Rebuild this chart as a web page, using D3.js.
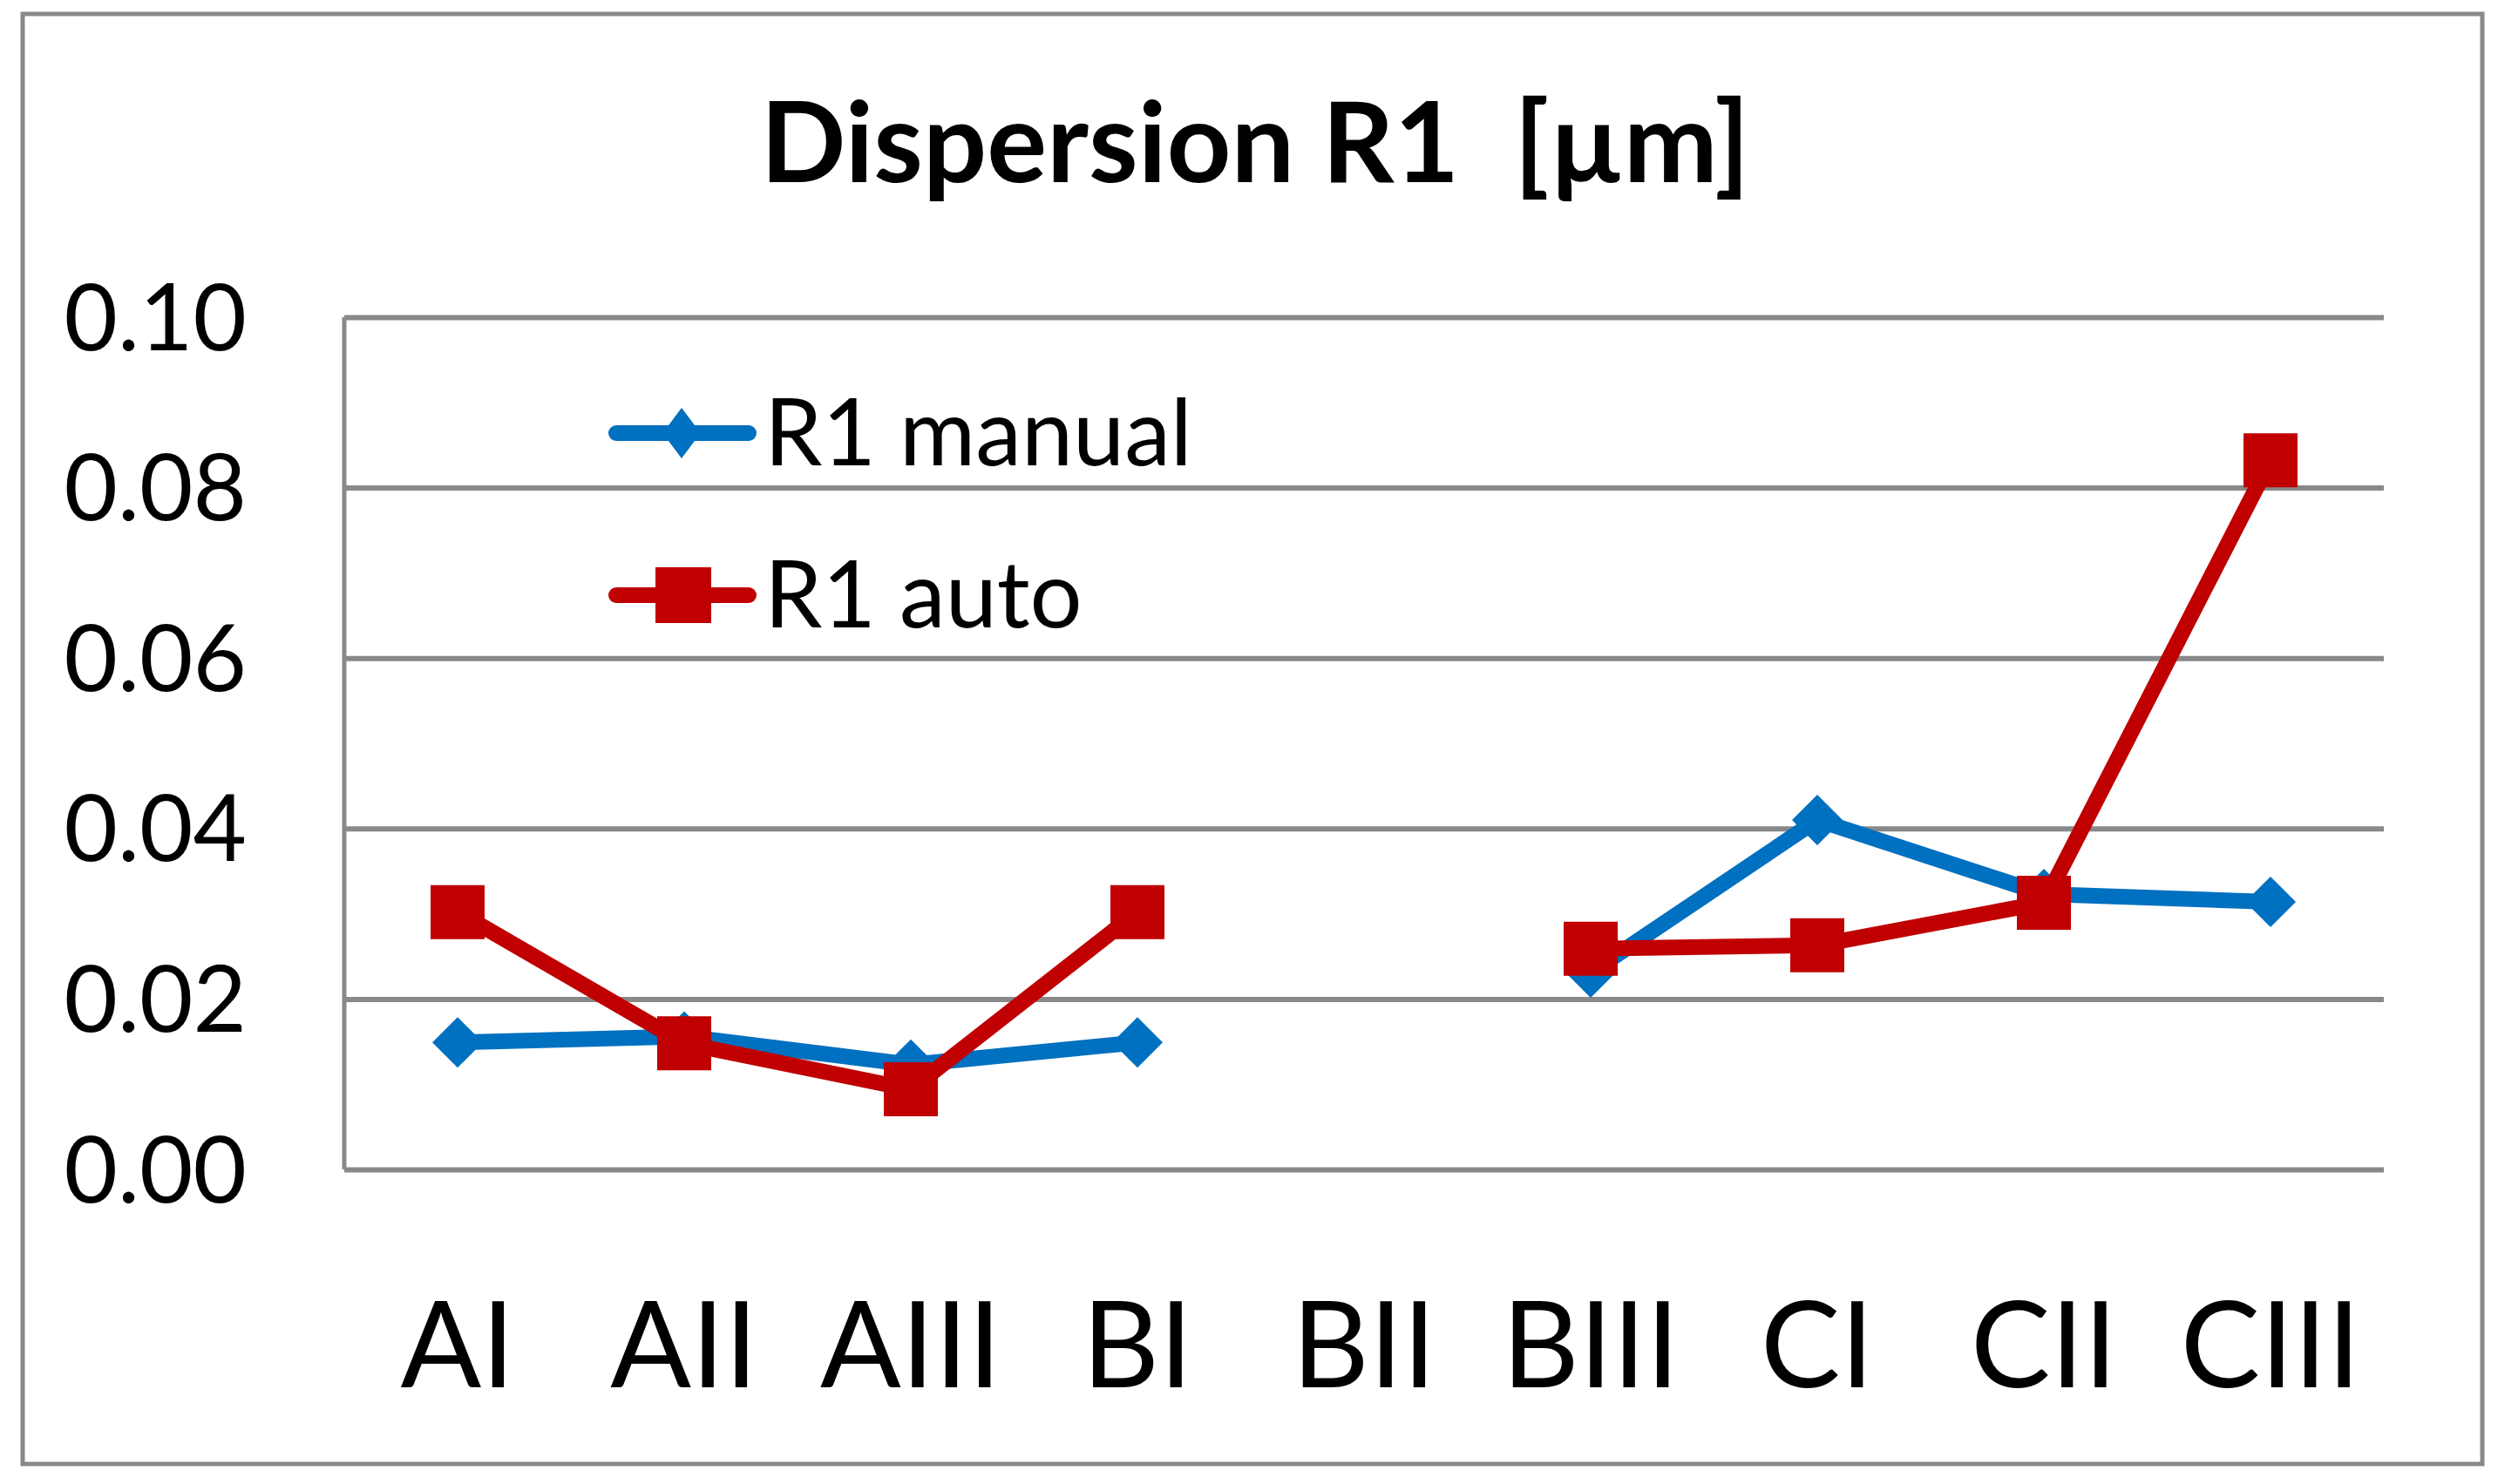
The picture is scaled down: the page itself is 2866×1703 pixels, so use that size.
<!DOCTYPE html>
<html>
<head>
<meta charset="utf-8">
<script src="https://cdn.jsdelivr.net/npm/d3@7"></script>
<style>
  body { margin: 0; background: #ffffff; }
  text { font-family: Lato, "Open Sans", sans-serif; fill: #000; }
</style>
</head>
<body>
<div id="body"></div>
<script>
// chart data
var categories = ['AI', 'AII', 'AIII', 'BI', 'BII', 'BIII', 'CI', 'CII', 'CIII'];
var manualValues = [0.0149, 0.0156, 0.0123, 0.0149, null, 0.0231, 0.0410, 0.0323, 0.0314];
var autoValues = [0.0302, 0.0148, 0.0094, 0.0302, null, 0.0259, 0.0263, 0.0313, 0.0832];
var yTicks = [0, 0.02, 0.04, 0.06, 0.08, 0.10];
var seriesNames = ['R1 manual', 'R1 auto'];
var seriesColors = ['#0070C0', '#C00000'];
var titleText = 'Dispersion R1  [µm]';

var width = 2866;
var height = 1703;
var plot = { left: 395, right: 2735, top: 364, bottom: 1342 };
var gridColor = '#898989';

var svg = d3.select('#body')
  .append('svg')
  .attr('width', width)
  .attr('height', height)
  .style('display', 'block')
  .style('background', '#ffffff');

// outer frame
svg.append('rect')
  .attr('x', 26)
  .attr('y', 16)
  .attr('width', 2822)
  .attr('height', 1664)
  .style('fill', 'none')
  .style('stroke', gridColor)
  .style('stroke-width', 5);

// title
svg.append('text')
  .attr('x', 1440)
  .attr('y', 209)
  .attr('text-anchor', 'middle')
  .style('font-size', '129px')
  .style('font-weight', 'bold')
  .style('white-space', 'pre')
  .text(titleText);

var x = d3.scaleBand()
  .domain(categories)
  .range([plot.left, plot.right]);

var y = d3.scaleLinear()
  .domain([0, 0.1])
  .range([plot.bottom, plot.top]);

// y axis with gridlines
var yAxis = svg.append('g')
  .attr('transform', 'translate(' + plot.left + ',0)')
  .call(d3.axisLeft(y)
    .tickValues(yTicks)
    .tickFormat(d3.format('.2f'))
    .tickSizeInner(-(plot.right - plot.left))
    .tickSizeOuter(0)
    .tickPadding(112));

yAxis.select('.domain').remove();
yAxis.selectAll('.tick line')
  .style('stroke', gridColor)
  .style('stroke-width', 6);
yAxis.selectAll('.tick text')
  .attr('dy', '0.35em')
  .style('font-size', '106px')
  .style('font-family', 'Lato, sans-serif')
  .style('fill', '#000');

// vertical axis line
svg.append('line')
  .attr('x1', plot.left)
  .attr('x2', plot.left)
  .attr('y1', plot.top)
  .attr('y2', plot.bottom)
  .style('stroke', gridColor)
  .style('stroke-width', 5);

// x axis labels
var xAxis = svg.append('g')
  .attr('transform', 'translate(0,' + plot.bottom + ')')
  .call(d3.axisBottom(x).tickSize(0).tickPadding(153));

xAxis.select('.domain').remove();
xAxis.selectAll('.tick text')
  .style('font-size', '137px')
  .style('font-family', 'Lato, sans-serif')
  .style('fill', '#000');

// series
var series = [manualValues, autoValues];
var diamond = d3.symbol().type(d3.symbolSquare).size(41 * 41);
var square = d3.symbol().type(d3.symbolSquare).size(62 * 62);

var line = d3.line()
  .defined(function(d) { return d != null; })
  .x(function(d, i) { return x(categories[i]) + x.bandwidth() / 2; })
  .y(function(d) { return y(d); });

series.forEach(function(values, s) {
  var g = svg.append('g').attr('class', 'series');

  g.append('path')
    .datum(values)
    .attr('d', line)
    .style('fill', 'none')
    .style('stroke', seriesColors[s])
    .style('stroke-width', 18)
    .style('stroke-linejoin', 'round')
    .style('stroke-linecap', 'round');

  g.selectAll('.marker')
    .data(values.map(function(v, i) { return { v: v, c: categories[i] }; })
      .filter(function(d) { return d.v != null; }))
    .enter()
    .append('path')
    .attr('class', 'marker')
    .attr('d', s === 0 ? diamond : square)
    .attr('transform', function(d) {
      var t = 'translate(' + (x(d.c) + x.bandwidth() / 2) + ',' + y(d.v) + ')';
      return s === 0 ? t + ' rotate(45)' : t;
    })
    .style('fill', seriesColors[s]);
});

// legend
var legendRows = [497, 683];
seriesNames.forEach(function(name, s) {
  var ly = legendRows[s];
  var lg = svg.append('g').attr('class', 'legend');
  lg.append('line')
    .attr('x1', 707)
    .attr('x2', 859)
    .attr('y1', ly)
    .attr('y2', ly)
    .style('stroke', seriesColors[s])
    .style('stroke-width', 18)
    .style('stroke-linecap', 'round');
  lg.append('path')
    .attr('d', s === 0 ? diamond : d3.symbol().type(d3.symbolSquare).size(64 * 64))
    .attr('transform', 'translate(' + (s === 0 ? 782 : 784) + ',' + ly + ')' +
      (s === 0 ? ' scale(0.75,1) rotate(45)' : ''))
    .style('fill', seriesColors[s]);
  lg.append('text')
    .attr('x', 877)
    .attr('y', ly)
    .attr('dy', '0.35em')
    .style('font-size', '106px')
    .text(name);
});
</script>
</body>
</html>
